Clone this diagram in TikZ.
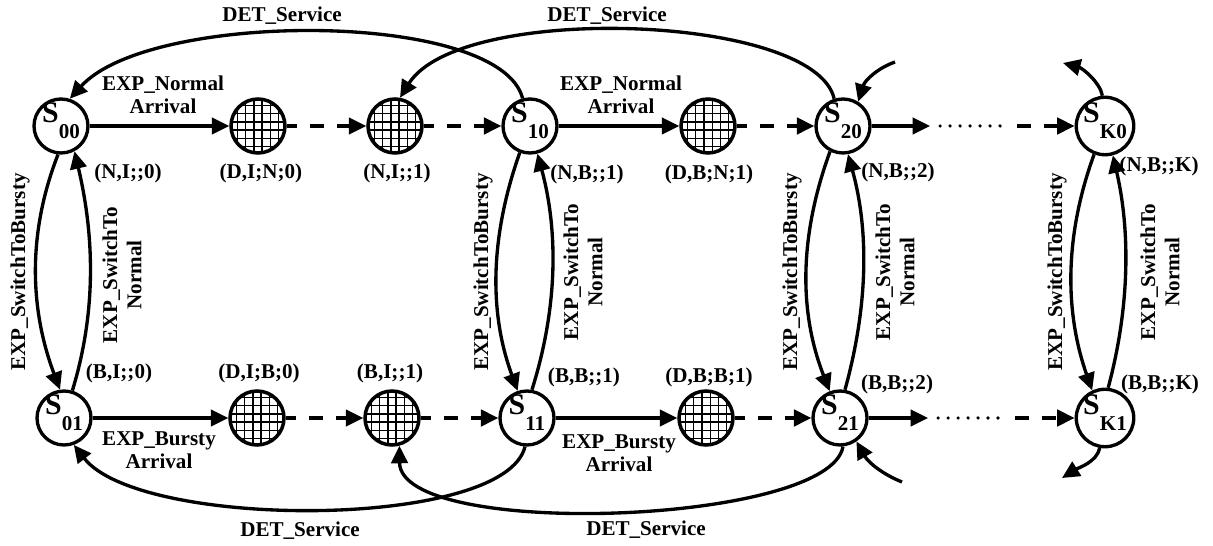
\documentclass[tikz,border=0pt]{standalone}
\usepackage{fontspec}
\setmainfont{Liberation Serif}
\usetikzlibrary{arrows.meta}
% state name: big S with a lowered index
\newcommand\stlab[1]{{\fontsize{17}{17}\selectfont S}\raisebox{-9pt}{\fontsize{12}{12}\selectfont #1}}
\begin{document}
\begin{tikzpicture}[x=0.02cm, y=0.02cm,
  every node/.style={font=\bfseries\fontsize{12}{13}\selectfont},
  state/.style={circle, draw, line width=1.9pt, fill=white, minimum size=1.08cm,
    inner sep=0pt, text height=9pt, text depth=12.5pt},
  hatch/.style={circle, draw, line width=2pt, fill=white, minimum size=1.08cm, inner sep=0pt,
    path picture={
      \foreach \k in {-20.75,-12.45,-4.15,4.15,12.45,20.75}{
        \draw[line width=0.75pt] (path picture bounding box.center) ++(\k,-30) -- ++(0,60);
        \draw[line width=0.75pt] (path picture bounding box.center) ++(-30,\k) -- ++(60,0);
      }}},
  edge/.style={line width=1.9pt, -{Triangle[length=0.35cm,width=0.33cm]}},
  dashedge/.style={edge, dash pattern=on 0.28cm off 0.26cm, dash phase=0.08cm},
  dotline/.style={line width=2pt, line cap=round, dash pattern=on 0pt off 0.2cm},
  lbl/.style={align=center},
  vlbl/.style={rotate=90, align=center, font=\bfseries\fontsize{12}{13.8}\selectfont},
  code/.style={}
  ]
\useasboundingbox (0,0) rectangle (1213,-546);

% states of the top row (normal arrivals)
\node[state] (S00) at (61,-126) {\stlab{00}};
\node[hatch] (H1) at (258,-126) {};
\node[hatch] (H2) at (395,-126) {};
\node[state] (S10) at (530,-126) {\stlab{10}};
\node[hatch] (H3) at (708,-126) {};
\node[state] (S20) at (843,-126) {\stlab{20}};
\node[state] (SK0) at (1105,-126) {\stlab{K0}};

% states of the bottom row (bursty arrivals)
\node[state] (S01) at (64,-418) {\stlab{01}};
\node[hatch] (H4) at (257,-418) {};
\node[hatch] (H5) at (392,-418) {};
\node[state] (S11) at (527,-418) {\stlab{11}};
\node[hatch] (H6) at (706,-418) {};
\node[state] (S21) at (840,-418) {\stlab{21}};
\node[state] (SK1) at (1105,-418) {\stlab{K1}};

% state codes
\node[code] (c1) at (128,-173) {(N,I;;0)};
\node[code] (c2) at (261,-173) {(D,I;N;0)};
\node[code] (c3) at (397,-173) {(N,I;;1)};
\node[code] (c4) at (587,-174) {(N,B;;1)};
\node[code] (c5) at (709,-174) {(D,B;N;1)};
\node[code] (c6) at (898,-172) {(N,B;;2)};
\node[code] (c7) at (1159,-166) {(N,B;;K)};
\node[code] (c8) at (119,-373) {(B,I;;0)};
\node[code] (c9) at (259,-373) {(D,I;B;0)};
\node[code] (c10) at (390,-373) {(B,I;;1)};
\node[code] (c11) at (584,-377) {(B,B;;1)};
\node[code] (c12) at (709,-377) {(D,B;B;1)};
\node[code] (c13) at (897,-384) {(B,B;;2)};
\node[code] (c14) at (1160,-384) {(B,B;;K)};

% transition labels
\node[lbl] (la1) at (163,-95) {EXP\_Normal\\Arrival};
\node[lbl] (la2) at (621,-95) {EXP\_Normal\\Arrival};
\node[lbl] (lb1) at (159,-450) {EXP\_Bursty\\Arrival};
\node[lbl] (lb2) at (619,-453) {EXP\_Bursty\\Arrival};
\node (ld1) at (282,-16) {DET\_Service};
\node (ld2) at (607,-16) {DET\_Service};
\node (ld3) at (300,-531) {DET\_Service};
\node (ld4) at (646,-530) {DET\_Service};
\node[vlbl] (vb0) at (20,-272) {EXP\_SwitchToBursty};
\node[vlbl] (vn0) at (122,-275) {EXP\_SwitchTo\\Normal};
\node[vlbl] (vb1) at (483,-272) {EXP\_SwitchToBursty};
\node[vlbl] (vn1) at (583,-272) {EXP\_SwitchTo\\Normal};
\node[vlbl] (vb2) at (792,-272) {EXP\_SwitchToBursty};
\node[vlbl] (vn2) at (895,-272) {EXP\_SwitchTo\\Normal};
\node[vlbl] (vbK) at (1057,-272) {EXP\_SwitchToBursty};
\node[vlbl] (vnK) at (1160,-272) {EXP\_SwitchTo\\Normal};

% free ends of the open connectors
\coordinate (t0a) at (930,-126);
\coordinate (t0b) at (940,-126);
\coordinate (t0c) at (1003,-126);
\coordinate (t0d) at (1017,-126);
\coordinate (t1a) at (928,-418);
\coordinate (t1b) at (938,-418);
\coordinate (t1c) at (1002,-418);
\coordinate (t1d) at (1015,-418);
\coordinate (in20) at (895,-62);
\coordinate (in21) at (902,-482);
\coordinate (outK0) at (1063,-63);
\coordinate (outK1) at (1062,-478);

% arrivals, top row
\draw[edge] (S00) -- (H1);
\draw[dashedge] (H1) -- (H2);
\draw[dashedge] (H2) -- (S10);
\draw[edge] (S10) -- (H3);
\draw[dashedge] (H3) -- (S20);
\draw[edge] (S20) -- (t0a);
\draw[dotline] (t0b) -- (t0c);
\draw[dashedge, dash phase=0pt] (t0d) -- (SK0);

% arrivals, bottom row
\draw[edge] (S01) -- (H4);
\draw[dashedge] (H4) -- (H5);
\draw[dashedge] (H5) -- (S11);
\draw[edge] (S11) -- (H6);
\draw[dashedge] (H6) -- (S21);
\draw[edge] (S21) -- (t1a);
\draw[dotline] (t1b) -- (t1c);
\draw[dashedge, dash phase=0pt] (t1d) -- (SK1);

% switches between normal and bursty mode
\draw[edge] (S00.264) .. controls (27,-234) and (30,-310) .. (S01.98);
\draw[edge] (S01.73) .. controls (97,-310) and (94,-234) .. (S00.-62);
\draw[edge] (S10.249) .. controls (491,-234) and (488,-310) .. (S11.109);
\draw[edge] (S11.80) .. controls (557,-310) and (559,-234) .. (S10.-75);
\draw[edge] (S20.243) .. controls (800,-234) and (798,-310) .. (S21.111);
\draw[edge] (S21.80) .. controls (867,-310) and (870,-234) .. (S20.-80);
\draw[edge] (SK0.249) .. controls (1065,-234) and (1064,-310) .. (SK1.115);
\draw[edge] (SK1.84) .. controls (1129,-310) and (1131,-234) .. (SK0.-75);

% deterministic services
\draw[edge] (S10.105) .. controls (500,-10) and (150,-10) .. (S00.72);
\draw[edge] (S20.108) .. controls (815,-14) and (460,-2) .. (H2.80);
\draw[edge] (S11.-94) .. controls (505,-530) and (140,-530) .. (S01.-70);
\draw[edge] (S21.-84) .. controls (830,-525) and (400,-540) .. (H5.-75);
\draw[edge] (in20) .. controls (878,-68) and (865,-80) .. (S20.58);
\draw[edge] (in21) .. controls (882,-474) and (868,-462) .. (S21.-55);
\draw[edge] (SK0.95) .. controls (1100,-82) and (1082,-68) .. (outK0);
\draw[edge] (SK1.-100) .. controls (1097,-462) and (1078,-468) .. (outK1);
\end{tikzpicture}
\end{document}
